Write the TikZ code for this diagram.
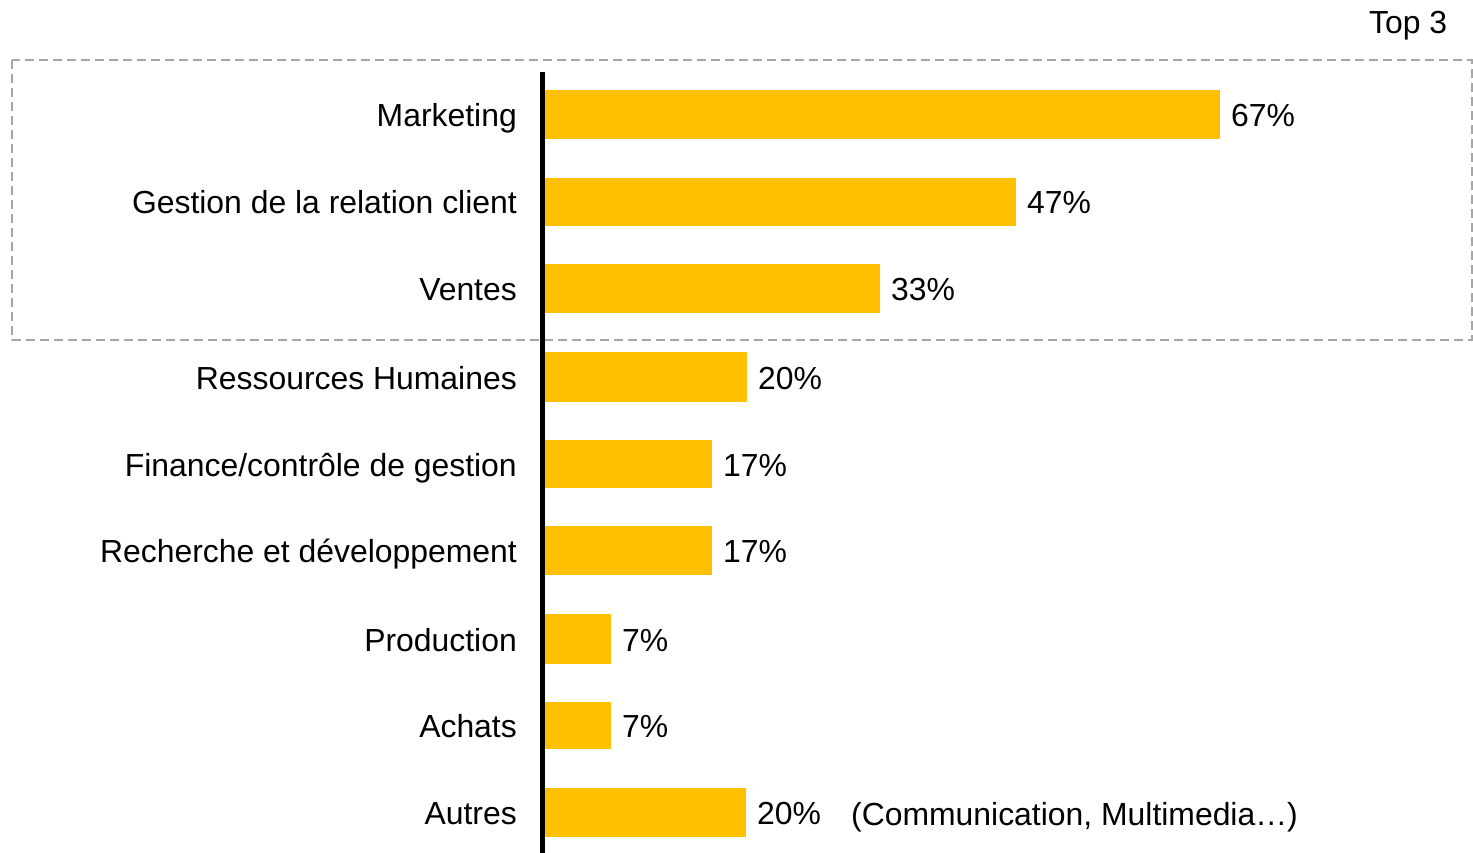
\documentclass[tikz,border=0pt]{standalone}
\usepackage{fontspec}
\setmainfont{Liberation Sans}
\definecolor{barc}{HTML}{FFC000}
\definecolor{boxc}{HTML}{A6A6A6}
\begin{document}
\begin{tikzpicture}[x=1pt,y=-1pt,
  lbl/.style={anchor=base east,inner sep=0pt,font=\fontsize{31.9}{36}\selectfont},
  val/.style={anchor=base west,inner sep=0pt,font=\fontsize{31.9}{36}\selectfont},
  bar/.style={fill=barc}]
\useasboundingbox (0,0) rectangle (1473,853);
\draw[boxc,line width=1.5pt,dash pattern=on 9pt off 5pt] (12,60) rectangle (1472,340);
\foreach \t/\b/\e/\n/\p in {90/139/1220/Marketing/67,178/226/1016/Gestion de la relation client/47,264/313/880/Ventes/33,352/402/747/Ressources Humaines/20,440/488/712/Finance\slash contrôle de gestion/17,526/575/712/Recherche et développement/17,614/664/611/Production/7,702/749/611/Achats/7,788/837/746/Autres/20}{
  \fill[bar] (545,\t) rectangle (\e,\b);
  \node[lbl] at (517,{(\t+\b)/2+12}) {\n};
  \node[val] at ({\e+11},{(\t+\b)/2+12}) {\p\%};
}
\fill[black] (539.5,72) rectangle (545,853);
\node[val] (note) at (851,825) {(Communication, Multimedia…)};
\node[val] (top) at (1369,34) {Top 3};
\end{tikzpicture}
\end{document}
